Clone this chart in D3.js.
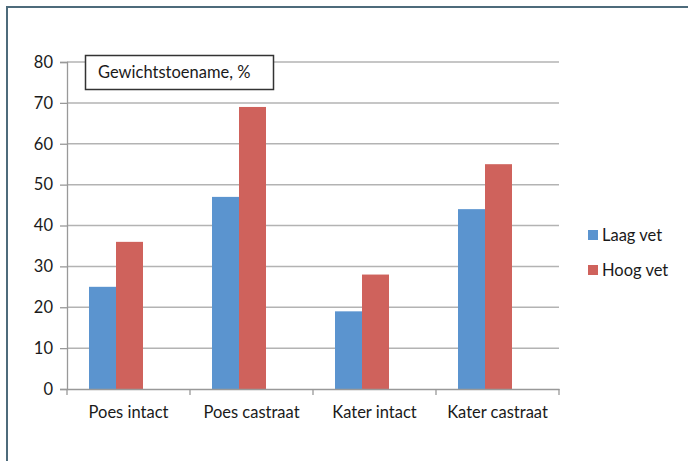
<!DOCTYPE html>
<html>
<head>
<meta charset="utf-8">
<script src="https://cdn.jsdelivr.net/npm/d3@7"></script>
<style>
  html, body { margin: 0; padding: 0; background: #fff; }
  svg { display: block; }
</style>
</head>
<body>
<svg id="chart" width="688" height="461"></svg>
<script>
const categories = ["Poes intact", "Poes castraat", "Kater intact", "Kater castraat"];
const seriesNames = ["Laag vet", "Hoog vet"];
const laagVet = [25, 47, 19, 44];
const hoogVet = [36, 69, 28, 55];
const yTicks = [0, 10, 20, 30, 40, 50, 60, 70, 80];
const chartTitle = "Gewichtstoename, %";
const colors = ["#5b94cf", "#cf625c"];

const svg = d3.select("#chart");
const font = "Lato, 'Open Sans', sans-serif";
const fs = 16.5;

// outer frame
svg.append("path")
  .attr("d", "M7,461 L7,7 L688,7")
  .attr("fill", "none")
  .attr("stroke", "#4d6b7b")
  .attr("stroke-width", 2);

const x0 = d3.scaleBand().domain(categories).range([67, 559]).padding(0);
const x1 = d3.scaleBand().domain(seriesNames).range([22, 76]).padding(0);
const y = d3.scaleLinear().domain([0, 80]).range([389, 62]);

// gridlines
svg.append("g").selectAll("line")
  .data(yTicks.filter(d => d > 0))
  .join("line")
  .attr("x1", 67).attr("x2", 559)
  .attr("y1", d => y(d)).attr("y2", d => y(d))
  .attr("stroke", "#b3b3b3").attr("stroke-width", 1.5);

// y axis
const yAxis = svg.append("g").attr("transform", "translate(67,0)")
  .call(d3.axisLeft(y).tickValues(yTicks).tickSize(7).tickPadding(7));
yAxis.select(".domain").attr("stroke", "#999").attr("stroke-width", 1.3);
yAxis.selectAll(".tick line").attr("stroke", "#999").attr("stroke-width", 1.3);
yAxis.selectAll("text").attr("font-family", font).attr("font-size", fs).attr("fill", "#1a1a1a");

// bars
const data = categories.map((c, i) => ({ cat: c, vals: [laagVet[i], hoogVet[i]] }));
const groups = svg.append("g").selectAll("g")
  .data(data).join("g")
  .attr("transform", d => `translate(${x0(d.cat)},0)`);
groups.selectAll("rect")
  .data(d => d.vals.map((v, j) => ({ s: seriesNames[j], v, j })))
  .join("rect")
  .attr("x", d => x1(d.s))
  .attr("width", x1.bandwidth())
  .attr("y", d => y(d.v))
  .attr("height", d => y(0) - y(d.v))
  .attr("fill", d => colors[d.j]);

// x axis
const xAxis = svg.append("g").attr("transform", "translate(0,389)")
  .call(d3.axisBottom(x0).tickSize(0).tickPadding(17));
xAxis.select(".domain").attr("stroke", "#999").attr("stroke-width", 1.3);
xAxis.selectAll("text").attr("font-family", font).attr("font-size", fs).attr("fill", "#1a1a1a");
// category boundary ticks
const bounds = categories.map(c => x0(c)).concat([x0.range()[1]]);
svg.append("g").selectAll("line")
  .data(bounds).join("line")
  .attr("x1", d => d).attr("x2", d => d)
  .attr("y1", 389).attr("y2", 395)
  .attr("stroke", "#999").attr("stroke-width", 1.3);

// title box
const tb = svg.append("g");
tb.append("rect")
  .attr("x", 85.5).attr("y", 55.5).attr("width", 188).attr("height", 34)
  .attr("fill", "#fff").attr("stroke", "#333").attr("stroke-width", 1.5);
tb.append("text")
  .attr("x", 98).attr("y", 78)
  .attr("font-family", font).attr("font-size", fs).attr("fill", "#1a1a1a")
  .text(chartTitle);

// legend
const lg = svg.append("g").selectAll("g")
  .data(seriesNames).join("g")
  .attr("transform", (d, i) => `translate(588,${230 + i * 35})`);
lg.append("rect").attr("width", 10).attr("height", 10).attr("fill", (d, i) => colors[i]);
lg.append("text").attr("x", 14).attr("y", 11)
  .attr("font-family", font).attr("font-size", fs).attr("fill", "#1a1a1a")
  .text(d => d);
</script>
</body>
</html>
